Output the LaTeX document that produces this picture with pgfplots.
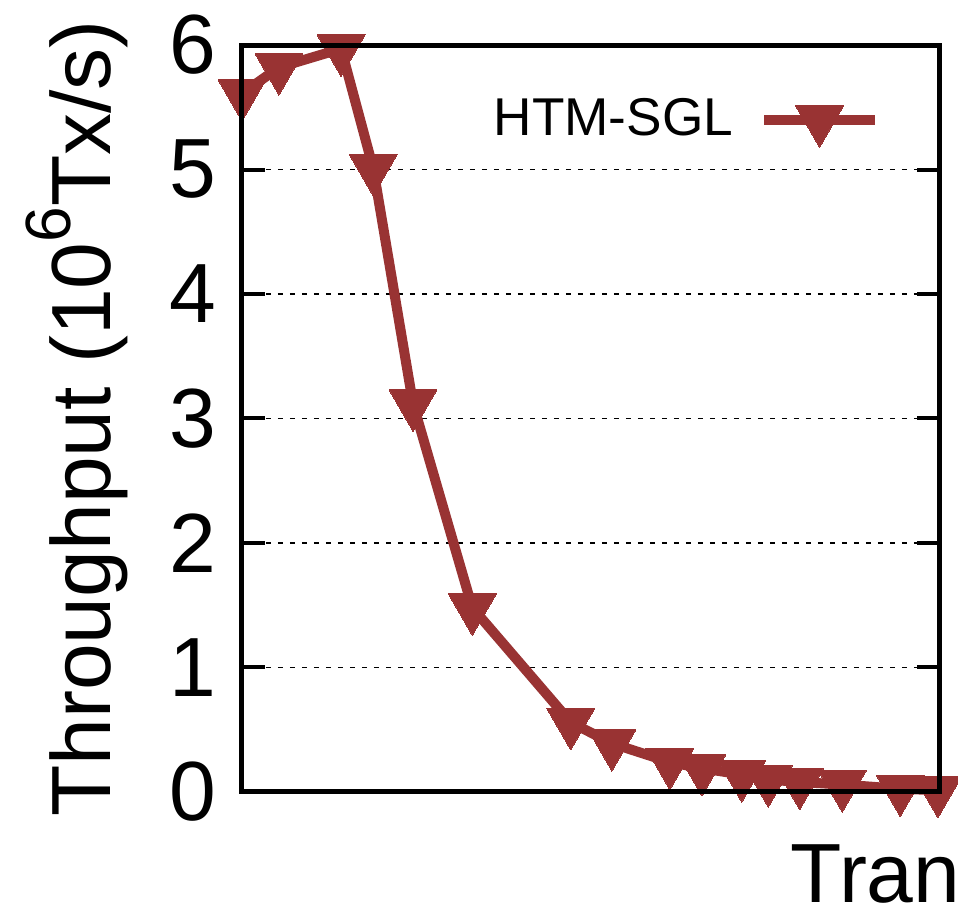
\documentclass[border=0pt]{standalone}
\usepackage{fontspec}
\setmainfont{Liberation Sans}
\usepackage{pgfplots}
\pgfplotsset{compat=1.18}
\definecolor{htmred}{RGB}{153,51,51}
\begin{document}
\begin{tikzpicture}
\useasboundingbox (0,0) rectangle (239.5pt,228.25pt);
\clip (0,0) rectangle (239.5pt,228.25pt);
\begin{axis}[
  name=ax,
  at={(60.5pt,30.25pt)}, anchor=south west,
  scale only axis=true,
  width=174.5pt, height=186.75pt,
  xmin=0, xmax=100, ymin=0, ymax=6,
  xtick=\empty,
  ytick={0,1,2,3,4,5,6},
  ymajorgrids=true,
  grid style={black, line width=0.4pt, dash pattern=on 1.3pt off 1.7pt},
  axis line style={line width=1.25pt},
  major tick length=5.75pt,
  tick style={black, line width=1pt},
  tick align=inside,
  ytick pos=both,
  clip=false,
  /pgf/number format/assume math mode=true,
  every tick label/.append style={font=\fontsize{21}{25}\selectfont},
  yticklabel style={xshift=-3pt},
  ylabel={Throughput (10\raisebox{10pt}{\fontsize{16}{18}\selectfont 6}Tx/s)},
  ylabel style={font=\fontsize{21}{25}\selectfont, at={(axis description cs:-0.189,0.5)}, anchor=base, rotate=0},
  legend style={at={(axis description cs:0.9155,0.9)}, anchor=east, draw=none, fill=none, inner sep=0pt, font=\fontsize{13.3}{16}\selectfont},
  legend plot pos=right,
  legend cell align=right,
  legend image code/.code={\path (0.5pt,0pt); \draw[#1, mark repeat=2, mark phase=2] plot coordinates {(5pt,0pt) (18.9pt,0pt) (32.8pt,0pt)};},
]
\addplot[color=htmred, line width=2.5pt, mark=triangle*, mark size=6.9pt, mark options={rotate=180, solid, line width=0pt, fill=htmred}]
coordinates {
(0,5.61) (5.3,5.82) (14.2,5.97) (18.8,5.01) (24.5,3.12) (33.0,1.48)
(47.1,0.56) (53.0,0.39) (61.3,0.24) (65.9,0.19) (71.6,0.14) (75.4,0.10)
(79.9,0.08) (86.0,0.06) (94.3,0.025) (99.7,0.015)
};
\addlegendentry{HTM-SGL}
\end{axis}
\draw[line width=1.25pt] (ax.south west) rectangle (ax.north east);
\node[anchor=base west, inner sep=0pt, font=\fontsize{21}{25}\selectfont] at (197.5pt,2.5pt) {Transaction size};
\end{tikzpicture}
\end{document}
